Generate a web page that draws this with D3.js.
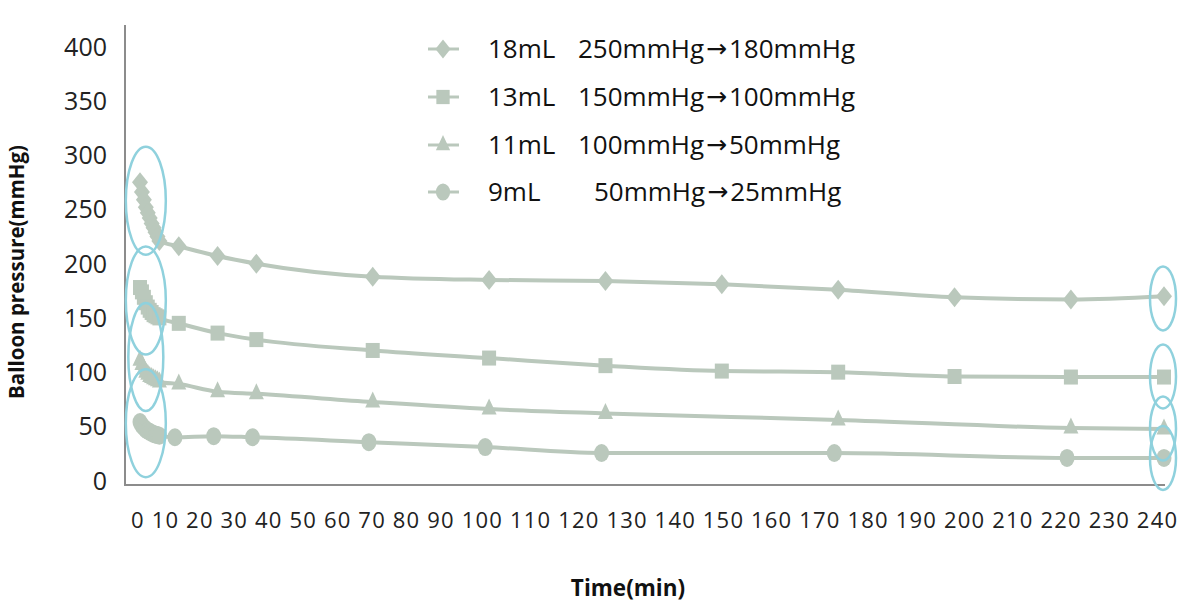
<!DOCTYPE html>
<html><head><meta charset="utf-8">
<script src="https://cdn.jsdelivr.net/npm/d3@7/dist/d3.min.js"></script>
<style>
html,body{margin:0;padding:0;background:#fff;}
svg{display:block;font-family:"Open Sans","Noto Sans",sans-serif;}
</style></head>
<body>
<svg id="chart" width="1180" height="602"></svg>
<script>
// ---------- data ----------
const timeA = [0,0.5,1,1.5,2,2.5,3,3.5,4,4.5,5,10,20,30,60,90,120,150,180,210,240,264];
const timeB = [0,0.5,1,1.5,2,2.5,3,3.5,4,4.5,5,10,20,30,60,90,120,180,240,264];
const timeC = [0,0.5,1,1.5,2,2.5,3,3.5,4,4.5,5,9,19,29,59,89,119,179,239,264];
const p18 = [279,270,263,256,251,246,241,237,233,229,225,220,211,204,192,189,188,185,180,173,171,174];
const p13 = [182,178,173,168,164,161,159,157,156,155,154,149,140,134,124,117,110,105,104,100,99.5,99.5];
const p11 = [115,111,107,104,102,100,99,98,97,96,95,93,86,84,76.5,70,66,60,52.5,51.5];
const p9  = [58,55,53,51,50,49,48,47,46.5,46,45.5,44,45,44,39.5,35,29.5,29.5,25,25];
const legendVolumes = ["18mL","13mL","11mL","9mL"];
const legendRanges = ["250mmHg\u2192180mmHg","150mmHg\u2192100mmHg","100mmHg\u219250mmHg","50mmHg\u219225mmHg"];
const yTicks = [0,50,100,150,200,250,300,350,400];
const xTickLabels = ["0","10","20","30","40","50","60","70","80","90","100","110","120","130","140","150","160","170","180","190","200","210","220","230","240"];
// annotation ellipses (data coordinates: time, pressure)
const ringTimes = [1.5,1.5,1.5,1.5,264,264,264,264];
const ringValues = [262,170,118,57,172,100,52,25];

// ---------- layout ----------
const svg = d3.select("#chart");
const col = "#bac8bc";
const ringCol = "#8fd1dd";
const x = d3.scaleLinear().domain([0,264]).range([140,1164]);
const y = d3.scaleLinear().domain([0,400]).range([485,51]);
const plotL = 125, plotR = 1165, plotT = 25, plotB = 485;

// axes lines
svg.append("line").attr("x1",plotL).attr("x2",plotL).attr("y1",plotT).attr("y2",plotB+1)
  .attr("stroke","#8c8c8c").attr("stroke-width",2);
svg.append("line").attr("x1",plotL).attr("x2",plotR).attr("y1",plotB).attr("y2",plotB)
  .attr("stroke","#8c8c8c").attr("stroke-width",2);

// y axis labels
const yAxis = d3.axisLeft(y).tickValues(yTicks).tickSize(0).tickPadding(18);
const ga = svg.append("g").attr("transform",`translate(${plotL},0)`).call(yAxis);
ga.select(".domain").remove();
ga.selectAll("text").attr("font-size",25).attr("fill","#222")
  .attr("font-family","'Open Sans','Noto Sans',sans-serif").attr("y",-4);

// x tick label row
svg.append("text").attr("x",131).attr("y",528).attr("font-size",22).attr("fill","#222")
  .attr("textLength",1046).attr("lengthAdjust","spacing")
  .attr("xml:space","preserve")
  .text(xTickLabels.join(" "));

// axis titles
svg.append("text").attr("x",628).attr("y",596).attr("text-anchor","middle")
  .attr("font-size",22.5).attr("font-weight","bold").attr("fill","#111").text("Time(min)");
svg.append("text").attr("transform","translate(24,272) rotate(-90)").attr("text-anchor","middle")
  .attr("font-size",20.5).attr("font-weight","bold").attr("fill","#111").text("Balloon pressure(mmHg)");

// marker shapes
function marker(g, kind, s){
  s = s || 1;
  if(kind==="diamond") g.append("path").attr("d",`M0,${-10*s}L${8*s},0L0,${10*s}L${-8*s},0Z`);
  else if(kind==="square") g.append("rect").attr("x",-7*s).attr("y",-7.5*s).attr("width",14*s).attr("height",15*s);
  else if(kind==="triangle") g.append("path").attr("d",`M0,${-10.5*s}L${7.5*s},${5.5*s}L${-7.5*s},${5.5*s}Z`);
  else g.append("ellipse").attr("rx",7.5*s).attr("ry",9*s);
}

const series = [
  {t:timeA, v:p18, kind:"diamond"},
  {t:timeA, v:p13, kind:"square"},
  {t:timeB, v:p11, kind:"triangle"},
  {t:timeC, v:p9,  kind:"circle"}
];
const line = d3.line().x(d=>x(d[0])).y(d=>y(d[1])).curve(d3.curveMonotoneX);
series.forEach(s=>{
  const pts = s.t.map((t,i)=>[t,s.v[i]]);
  svg.append("path").attr("d",line(pts)).attr("fill","none").attr("stroke",col).attr("stroke-width",4);
  pts.forEach(p=>{
    const g = svg.append("g").attr("transform",`translate(${x(p[0])},${y(p[1])})`).attr("fill",col);
    marker(g,s.kind);
  });
});

// annotation ellipses
ringTimes.forEach((t,i)=>{
  const left = i<4;
  svg.append("ellipse").attr("cx", left ? x(t) : x(t)-1).attr("cy",y(ringValues[i]))
    .attr("rx", left ? (i===2?17.5:20) : 13).attr("ry", left ? 54 : 32)
    .attr("fill","none").attr("stroke",ringCol).attr("stroke-width",2.5);
});

// legend
const kinds = ["diamond","square","triangle","circle"];
const legendY = [49,97,145,192];
legendVolumes.forEach((v,i)=>{
  const ly = legendY[i];
  svg.append("line").attr("x1",428).attr("x2",459).attr("y1",ly).attr("y2",ly)
    .attr("stroke",col).attr("stroke-width",3);
  const g = svg.append("g").attr("transform",`translate(443,${ly})`).attr("fill",col);
  marker(g,kinds[i],0.95);
  svg.append("text").attr("x",488).attr("y",ly+9).attr("font-size",26).attr("fill","#111").text(v);
  const parts = legendRanges[i].split("\u2192");
  const t = svg.append("text").attr("x", i===3 ? 594 : 578).attr("y",ly+9).attr("font-size",26).attr("fill","#111");
  t.append("tspan").text(parts[0]);
  t.append("tspan").attr("font-family","'DejaVu Sans'").attr("font-size",25).attr("dx",2).attr("dy",-1).text("\u2192");
  t.append("tspan").attr("dx",2).attr("dy",1).text(parts[1]);
});
</script>
</body></html>
